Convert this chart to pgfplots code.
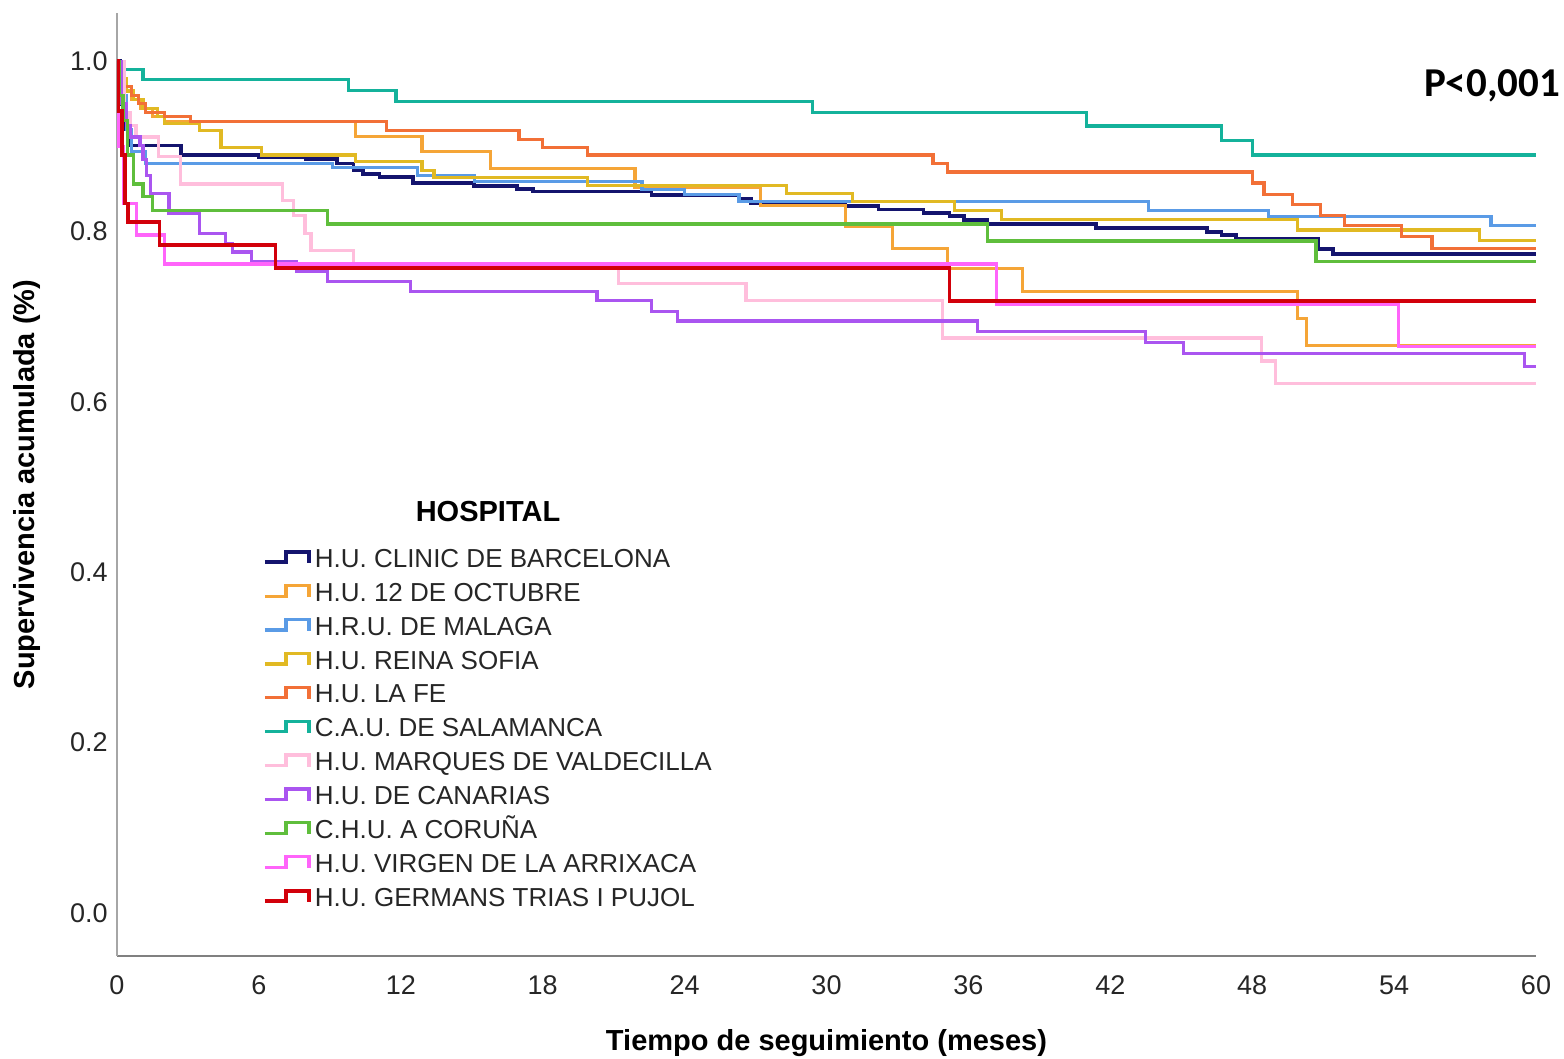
\documentclass[border=0pt]{standalone}
\usepackage{pgfplots}
\pgfplotsset{compat=1.18}
\usepackage{fontspec}
\setmainfont{Liberation Sans}
\newfontfamily\calibri{Carlito}
\definecolor{cNavy}{RGB}{20,20,110}
\definecolor{cOrange}{RGB}{245,165,55}
\definecolor{cBlue}{RGB}{90,155,230}
\definecolor{cGold}{RGB}{225,185,35}
\definecolor{cOrRed}{RGB}{242,112,55}
\definecolor{cTeal}{RGB}{20,178,155}
\definecolor{cPink}{RGB}{255,190,220}
\definecolor{cPurple}{RGB}{170,85,240}
\definecolor{cGreen}{RGB}{95,190,60}
\definecolor{cMagenta}{RGB}{255,100,250}
\definecolor{cRed}{RGB}{210,0,10}
\begin{document}
\begin{tikzpicture}
\begin{axis}[
  at={(0pt,0pt)}, anchor=south west,
  scale only axis, width=709.5pt, height=471.5pt,
  xmin=0, xmax=60, ymin=-0.0505, ymax=1.0567,
  axis lines=left, axis line style={-},
  x axis line style={draw=black!50, line width=1.2pt},
  y axis line style={draw=black!35, line width=1pt},
  xtick={0,6,12,18,24,30,36,42,48,54,60},
  ytick={0,0.2,0.4,0.6,0.8,1.0},
  yticklabels={0.0,0.2,0.4,0.6,0.8,1.0},
  major tick length=0pt,
  /pgf/number format/assume math mode=true,
  every x tick label/.style={anchor=center, yshift=-14.5pt, font=\fontsize{13.5}{15}\selectfont, text=black!85},
  every y tick label/.style={anchor=east, inner sep=0pt, xshift=-4.5pt, font=\fontsize{13.5}{15}\selectfont, text=black!85},
  xlabel={Tiempo de seguimiento (meses)},
  ylabel={Supervivencia acumulada (\%)},
  every axis x label/.style={at={(axis description cs:0.5,0)}, anchor=center, yshift=-43.5pt, font=\bfseries\fontsize{14.5}{16}\selectfont},
  every axis y label/.style={at={(axis description cs:0,0.5)}, anchor=center, rotate=90, yshift=45pt, font=\bfseries\fontsize{14.5}{16}\selectfont},
  no markers,
  legend cell align=left,
  legend image code/.code={\draw[#1] (0pt,0pt) -- (10.5pt,0pt) -- (10.5pt,5.3pt) -- (22pt,5.3pt) -- (22pt,-0.5pt);},
  legend style={at={(0.1029,0.4355)}, anchor=north west, draw=none, fill=none,
    inner sep=0pt, outer sep=0pt, row sep=0pt, column sep=2pt,
    font=\fontsize{13}{15}\selectfont,
    nodes={inner sep=0pt, outer sep=0pt, text height=11pt, text depth=5.95pt, text=black!85}},
]
% H.U. CLINIC DE BARCELONA
\addplot[cNavy, line width=1.9pt, const plot] coordinates {
(0,1) (0.15,0.95) (0.3,0.92) (0.55,0.901) (2.7,0.890) (6.0,0.888) (8.0,0.885) (9.3,0.880)
(10.0,0.872) (10.4,0.868) (11.1,0.864) (12.5,0.857) (15.1,0.854) (16.9,0.850) (17.6,0.847)
(22.6,0.843) (26.3,0.839) (26.8,0.833) (30.8,0.830) (32.2,0.826) (34.1,0.822) (35.2,0.818)
(35.8,0.814) (36.8,0.809) (41.4,0.804) (46.1,0.800) (46.7,0.796) (47.3,0.792) (50.8,0.780)
(51.4,0.774) (60,0.774)};
\addlegendentry{H.U. CLINIC DE BARCELONA}
% H.U. 12 DE OCTUBRE
\addplot[cOrange, line width=1.6pt, const plot] coordinates {
(0,1) (0.1,0.98) (0.3,0.965) (0.6,0.955) (1.0,0.945) (1.5,0.935) (2.0,0.929) (10.1,0.912)
(12.9,0.894) (15.8,0.874) (21.9,0.852) (27.2,0.831) (30.8,0.806) (32.8,0.780) (35.1,0.757)
(38.3,0.730) (49.9,0.698) (50.3,0.666) (60,0.666)};
\addlegendentry{H.U. 12 DE OCTUBRE}
% H.R.U. DE MALAGA
\addplot[cBlue, line width=1.6pt, const plot] coordinates {
(0,1) (0.2,0.96) (0.4,0.92) (0.6,0.894) (1.2,0.880) (9.1,0.875) (12.7,0.866) (15.1,0.859)
(22.2,0.849) (24.0,0.844) (26.3,0.835) (43.6,0.825) (48.7,0.818) (58.1,0.807) (60,0.807)};
\addlegendentry{H.R.U. DE MALAGA}
% H.U. REINA SOFIA
\addplot[cGold, line width=1.6pt, const plot] coordinates {
(0,1) (0.2,0.98) (0.4,0.965) (0.7,0.955) (1.1,0.945) (1.7,0.935) (2.0,0.927) (3.5,0.919)
(4.4,0.899) (6.1,0.890) (10.1,0.882) (12.9,0.872) (13.4,0.864) (19.9,0.854) (28.3,0.845)
(31.1,0.835) (35.4,0.825) (37.4,0.814) (49.9,0.802) (57.6,0.790) (60,0.790)};
\addlegendentry{H.U. REINA SOFIA}
% H.U. LA FE
\addplot[cOrRed, line width=1.6pt, const plot] coordinates {
(0,1) (0.1,0.985) (0.3,0.97) (0.6,0.96) (0.9,0.95) (1.2,0.94) (2.0,0.935) (3.1,0.929)
(11.4,0.919) (17.0,0.908) (18.0,0.899) (19.9,0.890) (34.5,0.880) (35.1,0.870) (48.0,0.857)
(48.5,0.844) (49.7,0.832) (50.9,0.819) (51.9,0.807) (54.3,0.794) (55.6,0.780) (60,0.780)};
\addlegendentry{H.U. LA FE}
% C.A.U. DE SALAMANCA
\addplot[cTeal, line width=1.6pt, const plot] coordinates {
(0,1) (0.13,0.990) (1.1,0.979) (9.8,0.966) (11.8,0.953) (29.4,0.940) (41.0,0.924)
(46.7,0.907) (48.0,0.890) (60,0.890)};
\addlegendentry{C.A.U. DE SALAMANCA}
% H.U. MARQUES DE VALDECILLA
\addplot[cPink, line width=1.6pt, const plot] coordinates {
(0,1) (0.3,0.94) (0.55,0.925) (0.8,0.911) (1.75,0.888) (2.7,0.856) (7.0,0.837) (7.45,0.819)
(7.95,0.798) (8.2,0.778) (10.0,0.763) (21.2,0.739) (26.6,0.719) (34.9,0.675) (48.4,0.648)
(49.0,0.622) (60,0.622)};
\addlegendentry{H.U. MARQUES DE VALDECILLA}
% H.U. DE CANARIAS
\addplot[cPurple, line width=1.6pt, const plot] coordinates {
(0,1) (0.2,0.95) (0.4,0.925) (0.55,0.911) (0.97,0.901) (1.1,0.885) (1.25,0.866) (1.4,0.845)
(2.2,0.821) (3.5,0.798) (4.6,0.786) (4.9,0.776) (5.7,0.765) (7.6,0.753) (8.9,0.741)
(12.4,0.730) (20.3,0.719) (22.6,0.706) (23.7,0.695) (36.4,0.683) (43.5,0.670) (45.1,0.657)
(59.5,0.642) (60,0.642)};
\addlegendentry{H.U. DE CANARIAS}
% C.H.U. A CORUÑA
\addplot[cGreen, line width=1.6pt, const plot] coordinates {
(0,1) (0.1,0.96) (0.25,0.93) (0.45,0.89) (0.7,0.856) (1.1,0.841) (1.5,0.825) (8.9,0.809)
(36.8,0.789) (50.7,0.765) (60,0.765)};
\addlegendentry{C.H.U. A CORUÑA}
% H.U. VIRGEN DE LA ARRIXACA
\addplot[cMagenta, line width=1.6pt, const plot] coordinates {
(0,1) (0.05,0.90) (0.26,0.833) (0.83,0.796) (2.0,0.762) (37.2,0.715) (54.2,0.665) (60,0.665)};
\addlegendentry{H.U. VIRGEN DE LA ARRIXACA}
% H.U. GERMANS TRIAS I PUJOL
\addplot[cRed, line width=1.9pt, const plot] coordinates {
(0,1) (0.05,0.942) (0.2,0.89) (0.35,0.833) (0.48,0.811) (1.8,0.784) (6.7,0.757) (35.2,0.719)
(60,0.719)};
\addlegendentry{H.U. GERMANS TRIAS I PUJOL}
\end{axis}
\node[font=\bfseries\fontsize{14.5}{16}\selectfont, anchor=center] at (185.5pt,222pt) {HOSPITAL};
\node[font=\calibri\bfseries\fontsize{20.5}{22}\selectfont, anchor=center] at (687.5pt,435pt) {P<0,001};
\pgfresetboundingbox
\useasboundingbox (-58.5pt,-51.5pt) rectangle (723.5pt,478pt);
\end{tikzpicture}
\end{document}
